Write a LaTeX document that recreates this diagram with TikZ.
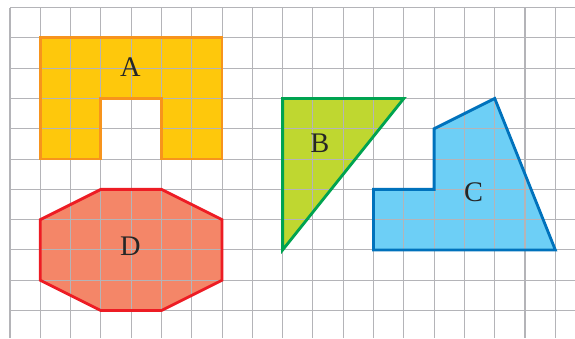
\documentclass[tikz,border=0pt]{standalone}
\usepackage{fontspec}
\setmainfont{Liberation Serif}
\usepackage{tikz}
\definecolor{gridgray}{RGB}{180,180,184}
\definecolor{fillA}{RGB}{254,200,12}
\definecolor{lineA}{RGB}{247,148,29}
\definecolor{fillB}{RGB}{191,215,48}
\definecolor{lineB}{RGB}{0,163,80}
\definecolor{fillC}{RGB}{109,207,246}
\definecolor{lineC}{RGB}{0,114,188}
\definecolor{fillD}{RGB}{244,134,104}
\definecolor{lineD}{RGB}{237,28,36}

\begin{document}
\begin{tikzpicture}[x=0.6cm, y=0.6cm,
  gridline/.style={draw=gridgray, line width=0.6pt},
  outline/.style={line width=1.6pt, line join=miter},
  every node/.style={font=\fontsize{16}{19}\selectfont, text=black!85}]
  \useasboundingbox (-0.33,0.25) rectangle (18.65,-10.91);
  % fills first, so the grid shows through
  \fill[fillA] (1,-1) -- (7,-1) -- (7,-5) -- (5,-5) -- (5,-3) -- (3,-3) -- (3,-5) -- (1,-5) -- cycle;
  \fill[fillB] (9,-3) -- (13,-3) -- (9,-8) -- cycle;
  \fill[fillC] (12,-6) -- (14,-6) -- (14,-4) -- (16,-3) -- (18,-8) -- (12,-8) -- cycle;
  \fill[fillD] (1,-7) -- (3,-6) -- (5,-6) -- (7,-7) -- (7,-9) -- (5,-10) -- (3,-10) -- (1,-9) -- cycle;
  % grid
  \foreach \i in {0,...,18} \draw[gridline] (\i,0) -- (\i,-10.91);
  \foreach \j in {0,...,10} \draw[gridline] (0,-\j) -- (18.65,-\j);
  % outlines
  \draw[outline, lineA] (1,-1) -- (7,-1) -- (7,-5) -- (5,-5) -- (5,-3) -- (3,-3) -- (3,-5) -- (1,-5) -- cycle;
  \draw[outline, lineB] (9,-3) -- (13,-3) -- (9,-8) -- cycle;
  \draw[outline, lineC] (12,-6) -- (14,-6) -- (14,-4) -- (16,-3) -- (18,-8) -- (12,-8) -- cycle;
  \draw[outline, lineD] (1,-7) -- (3,-6) -- (5,-6) -- (7,-7) -- (7,-9) -- (5,-10) -- (3,-10) -- (1,-9) -- cycle;
  % labels
  \node (labA) at (3.97,-1.95) {A};
  \node (labB) at (10.23,-4.47) {B};
  \node (labC) at (15.3,-6.1) {C};
  \node (labD) at (3.97,-7.87) {D};
\end{tikzpicture}
\end{document}
